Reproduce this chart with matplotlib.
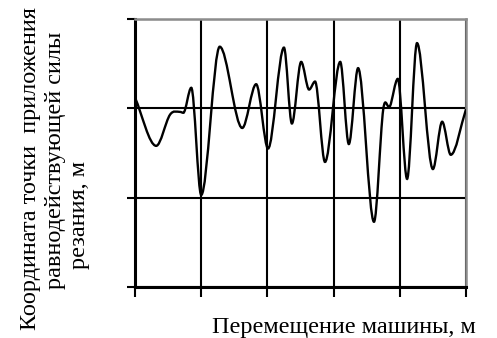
import numpy as np
import matplotlib
matplotlib.use("Agg")
import matplotlib.pyplot as plt
from matplotlib.path import Path
from matplotlib.patches import PathPatch

# curve points (turning points of the smoothed line)
pos = [0.00, 0.32, 0.53, 0.68, 0.73, 0.85, 1.00, 1.28, 1.62, 1.83,
       2.01, 2.25, 2.37, 2.51, 2.63, 2.72, 2.87, 3.10, 3.23, 3.37,
       3.61, 3.75, 3.85, 3.97, 4.11, 4.26, 4.50, 4.64, 4.77, 5.00]
coord = [2.12, 1.58, 1.93, 1.96, 1.95, 2.23, 1.03, 2.69, 1.78, 2.27,
         1.55, 2.68, 1.83, 2.52, 2.21, 2.30, 1.40, 2.52, 1.60, 2.45,
         0.73, 1.99, 2.02, 2.33, 1.21, 2.73, 1.32, 1.85, 1.48, 1.99]

x_ticks = [0, 1, 2, 3, 4, 5]
y_ticks = [0, 1, 2, 3]

xlabel = "Перемещение машины, м"
ylabel_lines = ["Координата точки  приложения",
                "равнодействующей силы",
                "резания, м"]


def smooth_path(x, y):
    # Excel-like smoothed line: cubic Bezier through every point,
    # flat tangent at turning points
    x = np.asarray(x, float)
    y = np.asarray(y, float)
    n = len(x)
    m = np.zeros(n)
    for i in range(n):
        if i == 0:
            m[i] = (y[1] - y[0]) / (x[1] - x[0])
        elif i == n - 1:
            m[i] = (y[-1] - y[-2]) / (x[-1] - x[-2])
        elif (y[i] - y[i - 1]) * (y[i + 1] - y[i]) <= 0:
            m[i] = 0.0
        else:
            m[i] = (y[i + 1] - y[i - 1]) / (x[i + 1] - x[i - 1])
    verts = [(x[0], y[0])]
    codes = [Path.MOVETO]
    for i in range(n - 1):
        dx = x[i + 1] - x[i]
        verts += [(x[i] + dx / 3, y[i] + m[i] * dx / 3),
                  (x[i + 1] - dx / 3, y[i + 1] - m[i + 1] * dx / 3),
                  (x[i + 1], y[i + 1])]
        codes += [Path.CURVE4] * 3
    return Path(verts, codes)


plt.rcParams['font.family'] = ['Liberation Serif', 'DejaVu Serif']

fig = plt.figure(figsize=(4.97, 3.38), dpi=100)
ax = fig.add_axes([135 / 497, 51 / 338, 331 / 497, 268 / 338])

ax.set_xlim(x_ticks[0], x_ticks[-1])
ax.set_ylim(y_ticks[0], y_ticks[-1])
ax.set_xticks(x_ticks)
ax.set_yticks(y_ticks)
ax.tick_params(labelleft=False, labelbottom=False, direction='out',
               color='black', width=1.5)
ax.tick_params(axis='x', length=7.5)
ax.tick_params(axis='y', length=6)

ax.set_axisbelow(True)
ax.grid(True, color='black', linewidth=1.5)

ax.spines['left'].set_linewidth(2.2)
ax.spines['bottom'].set_linewidth(2.2)
for side in ['top', 'right']:
    ax.spines[side].set_color('#8c8c8c')
    ax.spines[side].set_linewidth(1.8)

ax.add_patch(PathPatch(smooth_path(pos, coord), facecolor='none',
                       edgecolor='black', linewidth=1.7, zorder=3))

fig.text(344 / 497, 1 - 328 / 338, xlabel, ha='center', va='center',
         fontsize=17.5)
label_x = [31, 55, 80]
label_y = [169, 160, 215]
for line, lx, ly in zip(ylabel_lines, label_x, label_y):
    fig.text(lx / 497, 1 - ly / 338, line, rotation=90, ha='center',
             va='center', fontsize=17.5)

fig.savefig("out.png", dpi=100)
